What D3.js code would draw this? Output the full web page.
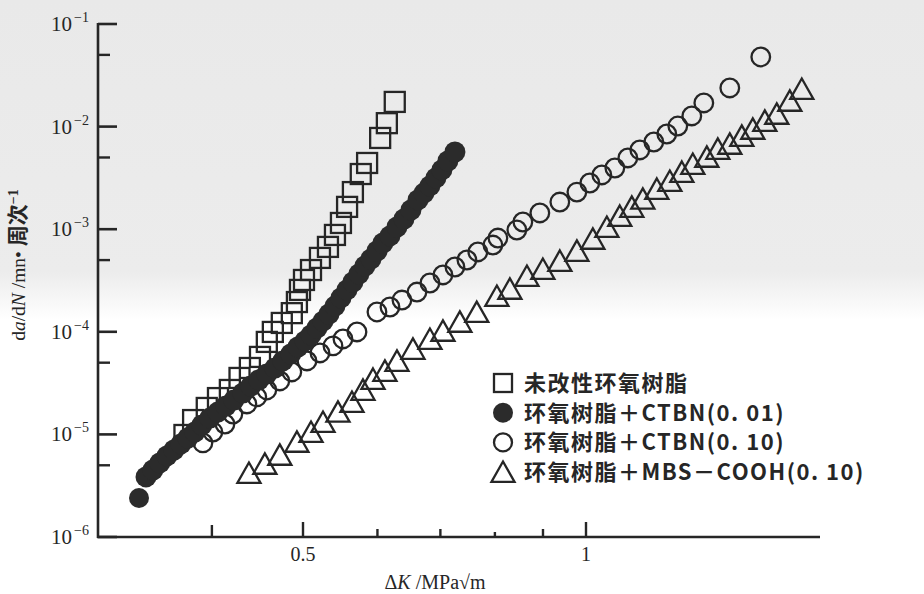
<!DOCTYPE html>
<html><head><meta charset="utf-8">
<script src="https://cdn.jsdelivr.net/npm/d3@7"></script>
<style>body{margin:0;background:#fff}svg{display:block}</style>
</head><body>
<svg id="c" width="924" height="594"></svg>
<script>
// ---- data (ΔK in MPa√m, da/dN in mm/cycle) ----
const kSquare = [0.374,0.382,0.395,0.406,0.418,0.428,0.439,0.450,0.4576,0.4644,0.4747,0.4865,0.4926,0.4963,0.5012,0.5099,0.5212,0.5315,0.5407,0.5487,0.557,0.565,0.576,0.585,0.604,0.614,0.626];
const dSquare = [9.87e-6,1.38e-5,1.81e-5,2.26e-5,2.71e-5,3.55e-5,4.44e-5,5.69e-5,7.97e-5,9.97e-5,1.22e-4,1.52e-4,1.95e-4,2.56e-4,3.20e-4,4.0e-4,5.25e-4,6.72e-4,8.79e-4,1.15e-3,1.65e-3,2.30e-3,3.45e-3,4.42e-3,7.75e-3,1.08e-2,1.74e-2];

const kFilled = [0.3346,0.3404,0.3462,0.3521,0.3583,0.3645,0.3708,0.3771,0.3837,0.3903,0.3981,0.4059,0.4140,0.4221,0.4315,0.4400,0.4487,0.4576,0.4667,0.4759,0.4853,0.4938,0.5025,0.5099,0.5174,0.5251,0.5329,0.5407,0.5487,0.5568,0.5651,0.5734,0.5819,0.5906,0.5993,0.6082,0.6187,0.6294,0.6403,0.6513,0.6626,0.6724,0.6823,0.6924,0.7026,0.7130,0.7254];
const dFilled = [2.40e-6,3.85e-6,4.50e-6,5.27e-6,6.17e-6,7.05e-6,8.08e-6,9.23e-6,1.055e-5,1.235e-5,1.445e-5,1.65e-5,1.89e-5,2.16e-5,2.53e-5,2.96e-5,3.39e-5,3.88e-5,4.44e-5,5.20e-5,6.08e-5,7.11e-5,8.15e-5,9.33e-5,1.089e-4,1.27e-4,1.49e-4,1.78e-4,2.14e-4,2.56e-4,3.06e-4,3.66e-4,4.38e-4,5.12e-4,6.13e-4,7.34e-4,8.6e-4,1.05e-3,1.257e-3,1.54e-3,1.93e-3,2.25e-3,2.64e-3,3.16e-3,3.78e-3,4.62e-3,5.66e-3];

const kOpen = [0.3913,0.4010,0.4130,0.4211,0.4358,0.4465,0.4576,0.4724,0.4865,0.5049,0.5212,0.5381,0.5514,0.5707,0.5993,0.6187,0.6371,0.6610,0.6823,0.7044,0.7254,0.7470,0.7673,0.7961,0.8059,0.8442,0.8567,0.8931,0.9379,0.9779,1.0094,1.0395,1.0732,1.1079,1.1409,1.1807,1.2188,1.2521,1.2958,1.3345,1.4222,1.5343];
const dOpen = [8.26e-6,1.055e-5,1.263e-5,1.58e-5,1.98e-5,2.32e-5,2.71e-5,3.32e-5,4.06e-5,5.20e-5,6.22e-5,7.29e-5,8.52e-5,9.97e-5,1.56e-4,1.745e-4,2.04e-4,2.44e-4,2.99e-4,3.58e-4,4.28e-4,5.01e-4,6.0e-4,7.01e-4,8.2e-4,9.82e-4,1.175e-3,1.44e-3,1.84e-3,2.30e-3,2.82e-3,3.38e-3,3.95e-3,4.95e-3,5.92e-3,7.08e-3,8.47e-3,1.013e-2,1.27e-2,1.70e-2,2.38e-2,4.77e-2];

const kTri = [0.4380,0.4554,0.4724,0.4926,0.5099,0.5251,0.5447,0.5637,0.5791,0.5935,0.6111,0.6294,0.6545,0.6823,0.7044,0.7342,0.7652,0.8039,0.8299,0.8653,0.8997,0.9379,0.9779,1.0169,1.0524,1.0862,1.1187,1.1493,1.1894,1.2279,1.2645,1.2990,1.3444,1.3810,1.4222,1.4646,1.5046,1.5496,1.5956,1.6473,1.6964];
const dTri = [4.11e-6,5.04e-6,6.17e-6,8.26e-6,1.03e-5,1.29e-5,1.62e-5,2.02e-5,2.65e-5,3.39e-5,4.06e-5,5.08e-5,6.65e-5,8.3e-5,9.97e-5,1.22e-4,1.52e-4,2.18e-4,2.56e-4,3.42e-4,4.0e-4,4.79e-4,6.0e-4,7.86e-4,1.027e-3,1.315e-3,1.61e-3,1.93e-3,2.41e-3,2.88e-3,3.53e-3,4.22e-3,4.95e-3,5.92e-3,6.63e-3,7.92e-3,9.28e-3,1.109e-2,1.30e-2,1.74e-2,2.27e-2];

const yMajorTicks = [1e-6,1e-5,1e-4,1e-3,1e-2,1e-1];
const yExponents = ["−6","−5","−4","−3","−2","−1"];
const yMinorTicks = [5e-6,5e-5,5e-4,5e-3,5e-2];
const xTicks = [0.4,0.5,0.6,0.7,0.8,0.9,1];
const xTickLabels = {0.5:"0.5",1:"1"};
const legendLabels = ["未改性环氧树脂","环氧树脂＋CTBN(0. 01)","环氧树脂＋CTBN(0. 10)","环氧树脂＋MBS－COOH(0. 10)"];
const legendSymbols = ["square","filled","open","triangle"];

// ---- drawing ----
const svg = d3.select("#c");
const ink = "#262626";

// scanned-paper tint of upper part
const grad = svg.append("defs").append("linearGradient").attr("id","bg").attr("x1",0).attr("y1",0).attr("x2",0).attr("y2",1);
grad.append("stop").attr("offset","0%").attr("stop-color","#e9e9e9");
grad.append("stop").attr("offset","85%").attr("stop-color","#ececec");
grad.append("stop").attr("offset","100%").attr("stop-color","#ffffff");
svg.append("rect").attr("x",0).attr("y",0).attr("width",924).attr("height",320).attr("fill","url(#bg)");

const x0 = d3.scaleLog().domain([0.5,1]).range([303,586]);
const x = d3.scaleLog().domain([x0.invert(98), x0.invert(820)]).range([98,820]);
const y = d3.scaleLog().domain([1e-6,1e-1]).range([537,24]);

const axisX = x.range()[0];
const axisY = y.range()[0];

// y axis
const gy = svg.append("g");
gy.append("line").attr("x1",axisX).attr("x2",axisX).attr("y1",y(1e-1)-1).attr("y2",axisY+1)
  .attr("stroke",ink).attr("stroke-width",2.6);
gy.selectAll("line.maj").data(yMajorTicks).join("line").attr("class","maj")
  .attr("x1",axisX).attr("x2",axisX+19).attr("y1",d=>y(d)).attr("y2",d=>y(d))
  .attr("stroke",ink).attr("stroke-width",2.6);
gy.selectAll("line.min").data(yMinorTicks).join("line").attr("class","min")
  .attr("x1",axisX).attr("x2",axisX+12).attr("y1",d=>y(d)).attr("y2",d=>y(d))
  .attr("stroke",ink).attr("stroke-width",2.4);
const yl = gy.selectAll("text.yl").data(yMajorTicks).join("text").attr("class","yl")
  .attr("x",51).attr("y",d=>y(d)+7)
  .attr("font-family","'Liberation Serif', serif").attr("font-size",21).attr("fill",ink);
yl.append("tspan").text("10");
yl.append("tspan").attr("dy",-9).attr("dx",2).attr("font-size",14).text((d,i)=>yExponents[i]);

// x axis
const gx = svg.append("g");
gx.append("line").attr("x1",axisX-1).attr("x2",x.range()[1]).attr("y1",axisY).attr("y2",axisY)
  .attr("stroke",ink).attr("stroke-width",2.6);
gx.selectAll("line.xt").data(xTicks).join("line").attr("class","xt")
  .attr("x1",d=>x(d)).attr("x2",d=>x(d)).attr("y1",axisY)
  .attr("y2",d=> axisY - (xTickLabels[d] ? 15 : (d===0.4 ? 12 : (d===0.8 ? 5 : 8))))
  .attr("stroke",ink).attr("stroke-width",2.4);
gx.selectAll("text.xl").data(xTicks.filter(d=>xTickLabels[d])).join("text").attr("class","xl")
  .attr("x",d=>x(d)).attr("y",561).attr("text-anchor","middle")
  .attr("font-family","'Liberation Serif', serif").attr("font-size",20).attr("fill",ink)
  .text(d=>xTickLabels[d]);

// axis titles
const xt = svg.append("text").attr("x",435).attr("y",589).attr("text-anchor","middle")
  .attr("font-family","'Liberation Serif', serif").attr("font-size",20).attr("fill",ink);
xt.append("tspan").text("Δ");
xt.append("tspan").attr("font-style","italic").text("K");
xt.append("tspan").text(" /MPa√m");

const yt = svg.append("text").attr("transform","translate(25,265) rotate(-90)").attr("text-anchor","middle")
  .attr("font-family","'Liberation Serif', serif").attr("font-size",19.5).attr("fill",ink);
yt.append("tspan").text("d");
yt.append("tspan").attr("font-style","italic").text("a");
yt.append("tspan").text("/d");
yt.append("tspan").attr("font-style","italic").text("N");
yt.append("tspan").text(" /mn• ");
yt.append("tspan").attr("font-family","'Noto Sans CJK SC', sans-serif").attr("font-weight","bold").attr("font-size",21).text("周次");
yt.append("tspan").attr("dy",-7).attr("font-size",14).attr("font-weight","bold").text("−1");

// markers
const triPath = s => `M0,${-s*0.55}L${s*0.55},${s*0.42}L${-s*0.55},${s*0.42}Z`;
const zip = (a,b) => a.map((v,i)=>[v,b[i]]);
const gm = svg.append("g");

gm.selectAll("rect.sq").data(zip(kSquare,dSquare)).join("rect").attr("class","sq")
  .attr("x",d=>x(d[0])-10).attr("y",d=>y(d[1])-10).attr("width",20).attr("height",20)
  .attr("fill","none").attr("stroke",ink).attr("stroke-width",2.3);

gm.selectAll("circle.op").data(zip(kOpen,dOpen)).join("circle").attr("class","op")
  .attr("cx",d=>x(d[0])).attr("cy",d=>y(d[1])).attr("r",9.3)
  .attr("fill","none").attr("stroke",ink).attr("stroke-width",2.3);

gm.selectAll("path.tr").data(zip(kTri,dTri)).join("path").attr("class","tr")
  .attr("transform",d=>`translate(${x(d[0])},${y(d[1])})`).attr("d",triPath(21))
  .attr("fill","none").attr("stroke",ink).attr("stroke-width",2.3).attr("stroke-linejoin","miter");

gm.selectAll("circle.fi").data(zip(kFilled,dFilled)).join("circle").attr("class","fi")
  .attr("cx",d=>x(d[0])).attr("cy",d=>y(d[1])).attr("r",(d,i)=> i===0 ? 10 : 10.5)
  .attr("fill","#2b2b2b");

// legend
const lg = svg.append("g");
const rowY = i => 383 + i*29.7;
legendSymbols.forEach((s,i)=>{
  const cx = 503, cy = rowY(i);
  if (s==="square") lg.append("rect").attr("x",cx-9).attr("y",cy-9).attr("width",18).attr("height",18)
      .attr("fill","none").attr("stroke",ink).attr("stroke-width",2.3);
  if (s==="filled") lg.append("circle").attr("cx",cx).attr("cy",cy).attr("r",10).attr("fill","#2b2b2b");
  if (s==="open") lg.append("circle").attr("cx",cx).attr("cy",cy).attr("r",9)
      .attr("fill","none").attr("stroke",ink).attr("stroke-width",2.3);
  if (s==="triangle") lg.append("path").attr("transform",`translate(${cx},${cy+1})`).attr("d",triPath(21))
      .attr("fill","none").attr("stroke",ink).attr("stroke-width",2.3);
});
lg.selectAll("text").data(legendLabels).join("text")
  .attr("x",524).attr("y",(d,i)=>rowY(i)+8)
  .attr("font-family","'Noto Sans CJK SC', sans-serif").attr("font-weight","bold")
  .attr("font-size",22).attr("letter-spacing",1.5).attr("fill",ink).text(d=>d);
</script>
</body></html>
